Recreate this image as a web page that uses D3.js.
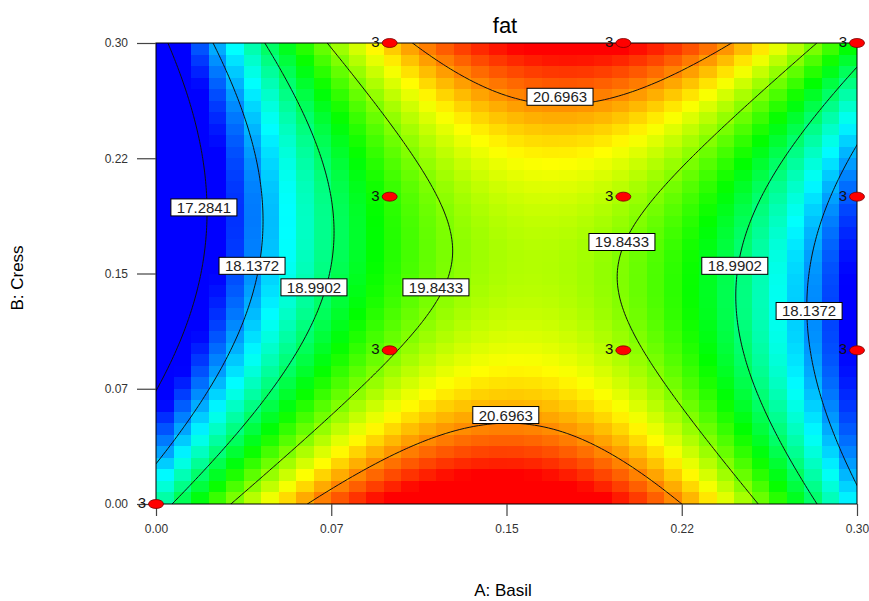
<!DOCTYPE html>
<html>
<head>
<meta charset="utf-8">
<script src="https://cdn.jsdelivr.net/npm/d3@7"></script>
<style>
  body { margin: 0; background: #fff; }
  svg text { font-family: Arial, "Liberation Sans", sans-serif; }
</style>
</head>
<body>
<svg id="chart" width="869" height="601"></svg>
<script>
// fitted quadratic model for fat, coded units (-1..1) for A: Basil and B: Cress
const modelTerms = ["Intercept", "A", "B", "AB", "A^2", "B^2"];
const modelCoefs = [20.00, 0.465, -0.17, 0.672, -3.04, 1.39];

// range of observed response, used for the colour ramp
const responseRange = [17.55, 21.2];

const contourLevels = [17.2841, 18.1372, 18.9902, 19.8433, 20.6963];

// where Design-Expert put the contour labels (actual units)
const labelLevel = [17.2841, 18.1372, 18.9902, 19.8433, 20.6963, 19.8433, 18.9902, 18.1372, 20.6963];
const labelA = [0.0205, 0.0411, 0.0676, 0.1198, 0.1729, 0.1994, 0.2477, 0.2795, 0.1497];
const labelB = [0.193, 0.155, 0.141, 0.141, 0.265, 0.1705, 0.155, 0.1256, 0.0579];

// design points and replicate counts
const designA = [0.0, 0.1, 0.2, 0.3, 0.1, 0.2, 0.3, 0.1, 0.2, 0.3];
const designB = [0.0, 0.3, 0.3, 0.3, 0.2, 0.2, 0.2, 0.1, 0.1, 0.1];
const designReps = [3, 3, 3, 3, 3, 3, 3, 3, 3, 3];

const axisTicks = [0, 0.075, 0.15, 0.225, 0.3];
const axisTickLabels = ["0.00", "0.07", "0.15", "0.22", "0.30"];

const gridCells = 40;

function predict(A, B) {
    const a = (A - 0.15) / 0.15;
    const b = (B - 0.15) / 0.15;
    const c = modelCoefs;
    return c[0] + c[1] * a + c[2] * b + c[3] * a * b + c[4] * a * a + c[5] * b * b;
}

const svg = d3.select("#chart");
const margin = { top: 43, right: 12, bottom: 97, left: 156 };
const W = 869, H = 601;

const x = d3.scaleLinear().domain([0, 0.3]).range([margin.left, W - margin.right]);
const y = d3.scaleLinear().domain([0, 0.3]).range([H - margin.bottom, margin.top]);

const hue = d3.scaleLinear().domain(responseRange).range([240, 0]).clamp(true);
const colorOf = v => d3.hsl(hue(v), 1, 0.5).formatHex();

// coloured cells
const cellSize = 0.3 / gridCells;
const cells = [];
for (let j = 0; j < gridCells; j++) {
    for (let i = 0; i < gridCells; i++) {
        cells.push({ i, j, v: predict((i + 0.5) * cellSize, (j + 0.5) * cellSize) });
    }
}
svg.append("g").selectAll("rect")
    .data(cells)
    .join("rect")
    .attr("x", d => Math.round(x(d.i * cellSize)))
    .attr("y", d => Math.round(y((d.j + 1) * cellSize)))
    .attr("width", d => Math.round(x((d.i + 1) * cellSize)) - Math.round(x(d.i * cellSize)))
    .attr("height", d => Math.round(y(d.j * cellSize)) - Math.round(y((d.j + 1) * cellSize)))
    .attr("fill", d => colorOf(d.v))
    .attr("shape-rendering", "crispEdges");

// contour lines from a finer grid, padded past the edges so the ring closings get clipped
const step = 0.002, pad = 2;
const n = Math.round(0.3 / step) + 1 + 2 * pad;
const start = -pad * step;
const values = new Array(n * n);
for (let j = 0; j < n; j++) {
    for (let i = 0; i < n; i++) {
        values[j * n + i] = predict(start + i * step, start + j * step);
    }
}
const contours = d3.contours().size([n, n]).thresholds(contourLevels)(values);

svg.append("clipPath").attr("id", "plotClip")
    .append("rect")
    .attr("x", x(0)).attr("y", y(0.3))
    .attr("width", x(0.3) - x(0)).attr("height", y(0) - y(0.3));

const gridToPx = d3.geoTransform({
    point: function (gx, gy) {
        this.stream.point(x(start + (gx - 0.5) * step), y(start + (gy - 0.5) * step));
    }
});

svg.append("g")
    .attr("clip-path", "url(#plotClip)")
    .selectAll("path")
    .data(contours)
    .join("path")
    .attr("d", d3.geoPath(gridToPx))
    .attr("fill", "none")
    .attr("stroke", "#111")
    .attr("stroke-width", 1);

// frame
svg.append("rect")
    .attr("x", x(0)).attr("y", y(0.3))
    .attr("width", x(0.3) - x(0)).attr("height", y(0) - y(0.3))
    .attr("fill", "none")
    .attr("stroke", "#000")
    .attr("stroke-width", 1);

// axes
const xAxis = svg.append("g")
    .attr("transform", `translate(0,${y(0)})`)
    .call(d3.axisBottom(x).tickValues(axisTicks).tickFormat((d, i) => axisTickLabels[i]).tickSize(12).tickPadding(8.5));
const yAxis = svg.append("g")
    .attr("transform", `translate(${x(0)},0)`)
    .call(d3.axisLeft(y).tickValues(axisTicks).tickFormat((d, i) => axisTickLabels[i]).tickSize(19).tickPadding(9));
[xAxis, yAxis].forEach(g => {
    g.select(".domain").remove();
    g.selectAll(".tick line").attr("stroke", "#444").attr("stroke-width", 1.2);
    g.selectAll(".tick text").attr("fill", "#333").style("font-size", "12px")
        .style("font-family", "Arial, 'Liberation Sans', sans-serif");
});

// contour labels
const labels = svg.append("g").selectAll("g")
    .data(labelLevel.map((lv, k) => ({ lv, A: labelA[k], B: labelB[k] })))
    .join("g")
    .attr("transform", d => `translate(${x(d.A)},${y(d.B)})`);
labels.append("rect")
    .attr("x", -33).attr("y", -8.5)
    .attr("width", 66).attr("height", 17)
    .attr("fill", "#fff")
    .attr("stroke", "#000")
    .attr("stroke-width", 1);
labels.append("text")
    .attr("text-anchor", "middle")
    .attr("y", 5.5)
    .attr("font-size", 15)
    .attr("fill", "#222")
    .text(d => d.lv.toFixed(4));

// design points
const pts = svg.append("g").selectAll("g")
    .data(designA.map((A, k) => ({ A, B: designB[k], r: designReps[k] })))
    .join("g")
    .attr("transform", d => `translate(${x(d.A)},${y(d.B)})`);
pts.append("ellipse")
    .attr("rx", 7.5).attr("ry", 4.5)
    .attr("fill", "#ff0000")
    .attr("stroke", "#700")
    .attr("stroke-width", 0.8);
pts.append("text")
    .attr("x", -10).attr("y", 4)
    .attr("text-anchor", "end")
    .attr("font-size", 15)
    .attr("fill", "#111")
    .text(d => d.r);

// titles
svg.append("text")
    .attr("x", 505).attr("y", 33)
    .attr("text-anchor", "middle")
    .attr("font-size", 22)
    .text("fat");
svg.append("text")
    .attr("x", 503).attr("y", 596)
    .attr("text-anchor", "middle")
    .attr("font-size", 17)
    .text("A: Basil");
svg.append("text")
    .attr("transform", "translate(23,278) rotate(-90)")
    .attr("text-anchor", "middle")
    .attr("font-size", 17)
    .text("B: Cress");
</script>
</body>
</html>
